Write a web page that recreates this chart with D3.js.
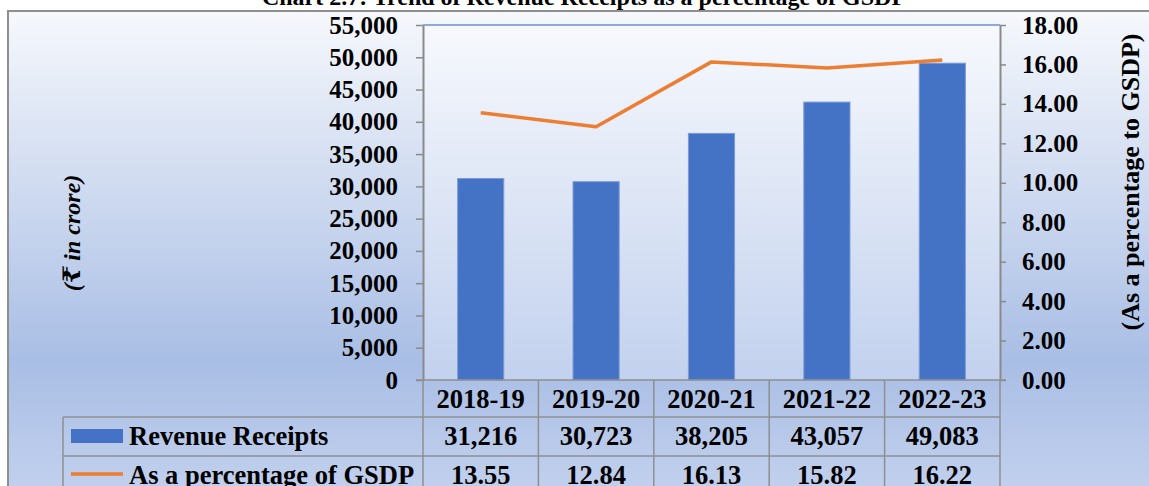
<!DOCTYPE html>
<html lang="en">
<head>
<meta charset="UTF-8">
<title>Trend of Revenue Receipts as a percentage of GSDP</title>
<script src="https://cdn.jsdelivr.net/npm/d3@7"></script>
<style>
  body { margin: 0; background: #fff; }
  svg { display: block; }
  text { font-family: "Liberation Serif", "Times New Roman", "DejaVu Serif", serif; font-weight: bold; fill: #000; }
</style>
</head>
<body>
<div id="chart"></div>
<script>
// data
const years = ["2018-19", "2019-20", "2020-21", "2021-22", "2022-23"];
const revenue = [31216, 30723, 38205, 43057, 49083];
const pctGSDP = [13.55, 12.84, 16.13, 15.82, 16.22];
const leftTicks = [0, 5000, 10000, 15000, 20000, 25000, 30000, 35000, 40000, 45000, 50000, 55000];
const rightTicks = [0, 2, 4, 6, 8, 10, 12, 14, 16, 18];
const seriesNames = ["Revenue Receipts", "As a percentage of GSDP"];
const titleText = "Chart 2.7: Trend of Revenue Receipts as a percentage of GSDP";

const W = 1149, H = 486;
const plot = { left: 423, right: 1000, top: 25, bottom: 380 };
const rowLines = [380, 417, 456, 495];
const tableLeft = 63;

const svg = d3.select("#chart").append("svg")
  .attr("width", W).attr("height", H);

// gradients
const defs = svg.append("defs");
const g1 = defs.append("linearGradient").attr("id", "bgGrad")
  .attr("x1", 0).attr("y1", 0).attr("x2", 0).attr("y2", 1);
g1.append("stop").attr("offset", "0%").attr("stop-color", "#f6f8fc");
g1.append("stop").attr("offset", "72%").attr("stop-color", "#a9bee5");
g1.append("stop").attr("offset", "100%").attr("stop-color", "#c3d1ee");
const g2 = defs.append("linearGradient").attr("id", "plotGrad")
  .attr("x1", 0).attr("y1", 0).attr("x2", 0).attr("y2", 1);
g2.append("stop").attr("offset", "0%").attr("stop-color", "#f7f9fd");
g2.append("stop").attr("offset", "100%").attr("stop-color", "#c2d1ee");

// title (cut off at the top, as in the source)
svg.append("text")
  .attr("x", 584).attr("y", 5)
  .attr("text-anchor", "middle")
  .attr("font-size", "24px")
  .text(titleText);

// chart frame
svg.append("rect")
  .attr("x", 8).attr("y", 11)
  .attr("width", W + 10).attr("height", H)
  .attr("fill", "url(#bgGrad)")
  .attr("stroke", "#8f8f8f").attr("stroke-width", 2);

// plot area
svg.append("rect")
  .attr("x", plot.left).attr("y", plot.top)
  .attr("width", plot.right - plot.left).attr("height", plot.bottom - plot.top)
  .attr("fill", "url(#plotGrad)");
svg.append("line")
  .attr("x1", plot.left).attr("x2", plot.right)
  .attr("y1", plot.top).attr("y2", plot.top)
  .attr("stroke", "#6f8fd2").attr("stroke-width", 1.5);

// scales
const x = d3.scaleBand().domain(years)
  .range([plot.left, plot.right]).paddingInner(0.6).paddingOuter(0.3);
const xCol = d3.scaleBand().domain(years).range([plot.left, plot.right]);
const yL = d3.scaleLinear().domain([0, 55000]).range([plot.bottom, plot.top]);
const yR = d3.scaleLinear().domain([0, 18]).range([plot.bottom, plot.top]);

// bars
svg.append("g").selectAll("rect")
  .data(years)
  .join("rect")
  .attr("x", d => x(d))
  .attr("y", (d, i) => yL(revenue[i]))
  .attr("width", x.bandwidth())
  .attr("height", (d, i) => plot.bottom - yL(revenue[i]))
  .attr("fill", "#4472c4")
  .attr("stroke", "#7e9bd6").attr("stroke-width", 1);

// line
const line = d3.line()
  .x((d, i) => x(years[i]) + x.bandwidth() / 2)
  .y(d => yR(d));
svg.append("path")
  .datum(pctGSDP)
  .attr("d", line)
  .attr("fill", "none")
  .attr("stroke", "#ed7d31")
  .attr("stroke-width", 3.5)
  .attr("stroke-linejoin", "round");

// axes
const axL = svg.append("g")
  .attr("transform", `translate(${plot.left},0)`)
  .call(d3.axisLeft(yL).tickValues(leftTicks).tickFormat(d3.format(",")).tickSizeInner(7).tickSizeOuter(0).tickPadding(18));
const axR = svg.append("g")
  .attr("transform", `translate(${plot.right},0)`)
  .call(d3.axisRight(yR).tickValues(rightTicks).tickFormat(d3.format(".2f")).tickSizeInner(6).tickSizeOuter(0).tickPadding(16));
[axL, axR].forEach(ax => {
  ax.select(".domain").attr("stroke", "#8a8a8a").attr("stroke-width", 2);
  ax.selectAll(".tick line").attr("stroke", "#8a8a8a").attr("stroke-width", 1.5);
  ax.selectAll(".tick text")
    .attr("font-size", "25px")
    .attr("font-family", "Liberation Serif, serif")
    .attr("font-weight", "bold")
    .attr("fill", "#000");
});

// axis titles
svg.append("text")
  .attr("transform", "translate(80,233) rotate(-90)")
  .attr("text-anchor", "middle")
  .attr("font-size", "24px")
  .attr("font-style", "italic")
  .text("(₹ in crore)");
svg.append("text")
  .attr("transform", "translate(1139,182) rotate(-90)")
  .attr("text-anchor", "middle")
  .attr("font-size", "26px")
  .text("(As a percentage to GSDP)");

// data table
const tbl = svg.append("g").attr("stroke", "#8f8f8f").attr("stroke-width", 1.5);
tbl.append("line")
  .attr("x1", plot.left - 7).attr("x2", plot.right + 6)
  .attr("y1", plot.bottom).attr("y2", plot.bottom);
rowLines.slice(1).forEach(y => {
  tbl.append("line").attr("x1", tableLeft).attr("x2", plot.right)
    .attr("y1", y).attr("y2", y);
});
tbl.append("line").attr("x1", tableLeft).attr("x2", tableLeft)
  .attr("y1", rowLines[1]).attr("y2", H + 10);
years.concat([null]).forEach(d => {
  const xx = d === null ? plot.right : xCol(d);
  tbl.append("line").attr("x1", xx).attr("x2", xx)
    .attr("y1", plot.bottom).attr("y2", H + 10);
});

// header labels
svg.append("g").selectAll("text")
  .data(years)
  .join("text")
  .attr("x", d => xCol(d) + xCol.bandwidth() / 2)
  .attr("y", 408)
  .attr("text-anchor", "middle")
  .attr("font-size", "26.5px")
  .text(d => d);

// value rows
const rowData = [revenue.map(d3.format(",")), pctGSDP.map(d3.format(".2f"))];
rowData.forEach((vals, r) => {
  svg.append("g").selectAll("text")
    .data(vals)
    .join("text")
    .attr("x", (d, i) => xCol(years[i]) + xCol.bandwidth() / 2)
    .attr("y", 445 + r * 38.5)
    .attr("text-anchor", "middle")
    .attr("font-size", "26.5px")
    .text(d => d);
});

// legend keys
svg.append("rect")
  .attr("x", 71).attr("y", 429).attr("width", 52).attr("height", 14)
  .attr("fill", "#4472c4");
svg.append("line")
  .attr("x1", 71).attr("x2", 123).attr("y1", 474).attr("y2", 474)
  .attr("stroke", "#ed7d31").attr("stroke-width", 3.5);
seriesNames.forEach((name, r) => {
  svg.append("text")
    .attr("x", 129).attr("y", 445 + r * 38.5)
    .attr("font-size", "26.5px")
    .text(name);
});
</script>
</body>
</html>
